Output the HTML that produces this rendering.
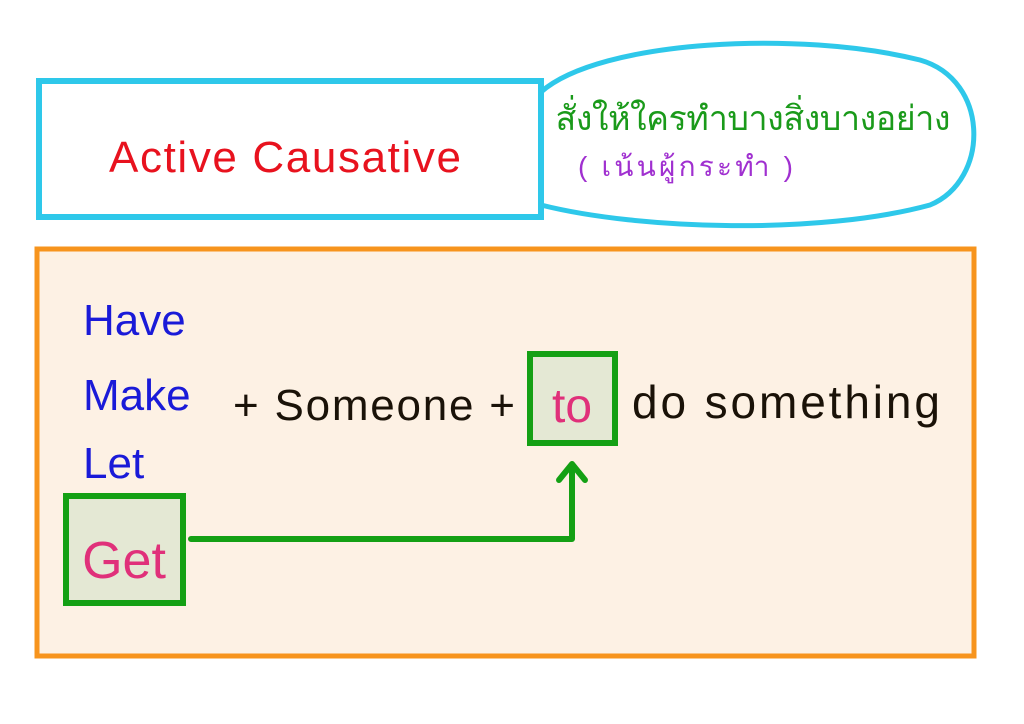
<!DOCTYPE html>
<html><head><meta charset="utf-8"><style>body{margin:0;background:#fff}svg{display:block}</style></head>
<body>
<svg width="1024" height="724" viewBox="0 0 1024 724" xmlns="http://www.w3.org/2000/svg">
<rect width="1024" height="724" fill="#fff"/>
<path d="M541 92 C600 40 800 30 920 60 C990 80 990 180 930 205 C820 235 640 230 541 205" fill="#fff" stroke="#2ec8ea" stroke-width="5"/>
<rect x="39" y="81" width="502" height="136" fill="#fff" stroke="#2ec8ea" stroke-width="6"/>
<text x="285" y="172" text-anchor="middle" font-family="Liberation Sans, sans-serif" font-size="44" fill="#e8121e" textLength="352">Active Causative</text>
<text x="555" y="130" font-family="Liberation Sans, DejaVu Sans, sans-serif" font-size="34" fill="#1a9a1a" textLength="395">สั่งให้ใครทำบางสิ่งบางอย่าง</text>
<text x="578" y="176" font-family="Liberation Sans, DejaVu Sans, sans-serif" font-size="28" fill="#a030d0" textLength="215">( เน้นผู้กระทำ )</text>
<rect x="37" y="249" width="937" height="407" fill="#fdf1e4" stroke="#f7941d" stroke-width="5"/>
<g font-family="Liberation Sans, sans-serif" font-size="44" fill="#1a1ad8">
<text x="83" y="335">Have</text>
<text x="83" y="410">Make</text>
<text x="83" y="478">Let</text>
</g>
<rect x="66" y="496" width="117" height="107" fill="#e4e8d4" stroke="#14a014" stroke-width="6"/>
<text x="124" y="578" text-anchor="middle" font-family="Liberation Sans, sans-serif" font-size="52" fill="#e0307a">Get</text>
<rect x="530" y="354" width="85" height="89" fill="#e4e8d4" stroke="#14a014" stroke-width="6"/>
<text x="572" y="422" text-anchor="middle" font-family="Liberation Sans, sans-serif" font-size="48" fill="#e0307a">to</text>
<text x="233" y="420" font-family="Liberation Sans, sans-serif" font-size="44" fill="#1a1208" textLength="282">+ Someone +</text>
<text x="632" y="418" font-family="Liberation Sans, sans-serif" font-size="46" fill="#1a1208" textLength="308">do something</text>
<path d="M191 539 H572 V466" fill="none" stroke="#14a014" stroke-width="6" stroke-linecap="round" stroke-linejoin="round"/>
<path d="M559 480 L572 464 L585 480" fill="none" stroke="#14a014" stroke-width="6" stroke-linecap="round" stroke-linejoin="round"/>
</svg>
</body></html>
